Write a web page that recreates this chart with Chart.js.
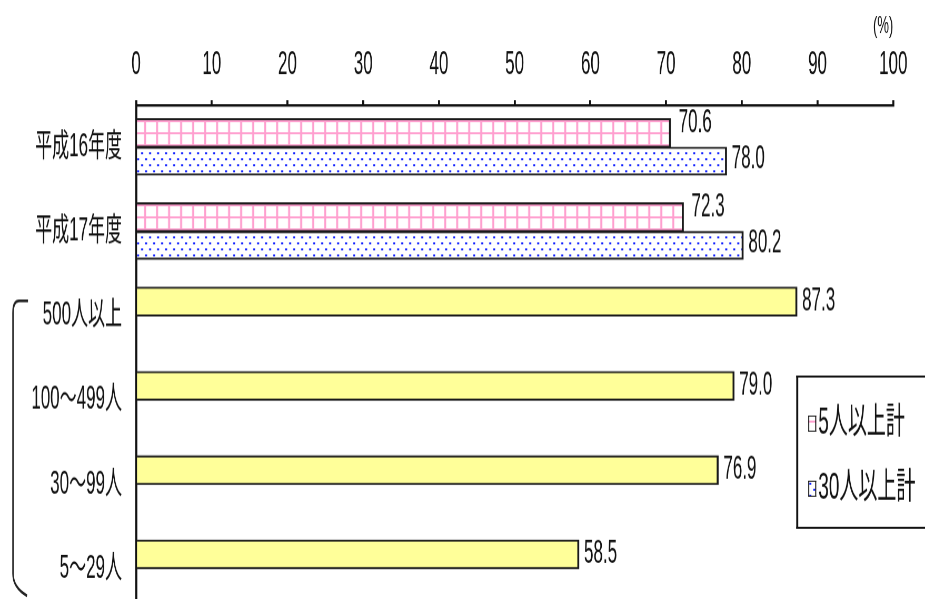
<!DOCTYPE html>
<html lang="ja">
<head>
<meta charset="utf-8">
<title>規模別・年度別の割合</title>
<script src="https://cdn.jsdelivr.net/npm/chart.js@4.4.1/dist/chart.umd.min.js"></script>
<style>
  html, body { margin: 0; padding: 0; background: #fff; }
  #frame { width: 925px; height: 599px; overflow: hidden; position: relative; background: #fff; }
  #stretch { width: 925px; height: 321px; transform: scaleY(1.9); transform-origin: 0 0; }
</style>
</head>
<body>
<div id="frame"><div id="stretch"><canvas id="chart" width="925" height="321"></canvas></div></div>
<script>
// 年度別の計
const yearCategories = ['平成16年度', '平成17年度'];
const totalFivePlus = [70.6, 72.3];
const totalThirtyPlus = [78.0, 80.2];

// 規模別（5人以上計の内訳）
const sizeCategories = ['500人以上', '100～499人', '30～99人', '5～29人'];
const sizeValues = [87.3, 79.0, 76.9, 58.5];

// 系列名・目盛り
const seriesNames = ['5人以上計', '30人以上計'];
const axisMin = 0;
const axisMax = 100;
const axisStep = 10;
const unitLabel = '(%)';

// The canvas is drawn flat and stretched vertically by CSS, giving tall narrow lettering.
const STRETCH = 1.9;
const FONT = '"Liberation Sans", "Noto Sans CJK JP", sans-serif';
const INK = '#111';

const canvas = document.getElementById('chart');
const ctx0 = canvas.getContext('2d');

// Fill patterns, painted in screen pixels (undo the vertical stretch)
function makePattern(w, h, paint) {
  const tile = document.createElement('canvas');
  tile.width = w;
  tile.height = h;
  const g = tile.getContext('2d');
  g.fillStyle = '#fff';
  g.fillRect(0, 0, w, h);
  paint(g);
  const p = ctx0.createPattern(tile, 'repeat');
  p.setTransform(new DOMMatrix([1, 0, 0, 1 / STRETCH, 0, 0]));
  return p;
}
const pinkGrid = makePattern(12, 12, g => {
  g.fillStyle = '#ff9fcf';
  g.fillRect(0, 0, 2, 12);
  g.fillRect(0, 0, 12, 2);
});
const blueDots = makePattern(8, 12, g => {
  g.fillStyle = '#1020ff';
  g.fillRect(1, 2, 2, 2);
  g.fillRect(5, 8, 2, 2);
});
const sizeFill = '#ffff99';

const categories = [...yearCategories, ...sizeCategories];
const firstSeries = [...totalFivePlus, ...sizeValues];
const secondSeries = [...totalThirtyPlus, ...sizeCategories.map(() => null)];
const firstColors = categories.map((_, i) => (i < yearCategories.length ? pinkGrid : sizeFill));

const barBorder = { top: 1.1, right: 2, bottom: 1.1, left: 2 };

// Value labels at the end of each bar
const valueLabels = {
  id: 'valueLabels',
  afterDatasetsDraw(chart) {
    const { ctx } = chart;
    ctx.save();
    ctx.font = '17px ' + FONT;
    ctx.fillStyle = INK;
    ctx.textBaseline = 'middle';
    ctx.textAlign = 'left';
    chart.data.datasets.forEach((ds, di) => {
      const meta = chart.getDatasetMeta(di);
      meta.data.forEach((bar, i) => {
        const v = ds.data[i];
        if (v === null || v === undefined) return;
        const yearRow = i < yearCategories.length;
        let dx = 5, dy = 0;
        if (yearRow && di === 0) { dx = 8; dy = -10 / STRETCH; }
        if (yearRow && di === 1) { dx = 5; dy = -2 / STRETCH; }
        ctx.fillText(v.toFixed(1), bar.x + dx, bar.y + dy);
      });
    });
    ctx.restore();
  }
};

// Bracket grouping the size rows
const sizeBracket = {
  id: 'sizeBracket',
  afterDraw(chart) {
    const { ctx } = chart;
    const y = chart.scales.y;
    const first = yearCategories.length;
    const top = y.getPixelForValue(first) - 15 / STRETCH;
    const bottom = y.getPixelForValue(first + sizeCategories.length - 1) + 27 / STRETCH;
    ctx.save();
    ctx.strokeStyle = '#222';
    ctx.lineWidth = 1.5;
    ctx.beginPath();
    ctx.moveTo(28, top);
    ctx.lineTo(19, top);
    ctx.quadraticCurveTo(13, top, 13, top + 12 / STRETCH);
    ctx.lineTo(13, bottom - 22 / STRETCH);
    ctx.quadraticCurveTo(13, bottom - 8 / STRETCH, 27, bottom);
    ctx.stroke();
    ctx.restore();
  }
};

// Boxed legend inside the plot
const boxLegend = {
  id: 'boxLegend',
  afterDraw(chart) {
    const { ctx } = chart;
    const S = STRETCH;
    const left = 797, right = 960;
    const top = 376 / S, bottom = 527 / S;
    ctx.save();
    ctx.fillStyle = '#fff';
    ctx.fillRect(left, top, right - left, bottom - top);
    ctx.fillStyle = INK;
    ctx.fillRect(left - 1, top - 1 / S, right - left, 2 / S);
    ctx.fillRect(left - 1, bottom - 1 / S, right - left, 2 / S);
    ctx.fillRect(left - 1, top - 1 / S, 2, bottom - top + 2 / S);
    const rows = [423 / S, 488 / S];
    ctx.font = '19px ' + FONT;
    ctx.textBaseline = 'middle';
    ctx.textAlign = 'left';
    chart.data.datasets.forEach((ds, i) => {
      const cy = rows[i];
      const sw = 8, sh = 16 / S;
      ctx.fillStyle = Array.isArray(ds.backgroundColor) ? ds.backgroundColor[0] : ds.backgroundColor;
      ctx.fillRect(808, cy - sh / 2, sw, sh);
      ctx.fillStyle = INK;
      ctx.fillRect(808, cy - sh / 2, sw, 1 / S);
      ctx.fillRect(808, cy + sh / 2 - 1 / S, sw, 1 / S);
      ctx.fillRect(808, cy - sh / 2, 1, sh);
      ctx.fillRect(808 + sw - 1, cy - sh / 2, 1, sh);
      ctx.fillText(ds.label, 818, cy);
    });
    ctx.restore();
  }
};

new Chart(canvas, {
  type: 'bar',
  data: {
    labels: categories,
    datasets: [
      {
        label: seriesNames[0],
        data: firstSeries,
        backgroundColor: firstColors,
        borderColor: '#1a1a1a',
        borderWidth: barBorder,
        borderSkipped: 'start',
        barThickness: 15
      },
      {
        label: seriesNames[1],
        data: secondSeries,
        backgroundColor: blueDots,
        borderColor: '#1a1a1a',
        borderWidth: barBorder,
        borderSkipped: 'start',
        barThickness: 14.5
      }
    ]
  },
  options: {
    indexAxis: 'y',
    responsive: false,
    animation: false,
    devicePixelRatio: STRETCH,
    layout: { padding: { left: 0, right: 32, top: 0, bottom: 0 } },
    plugins: {
      legend: { display: false },
      tooltip: { enabled: false }
    },
    scales: {
      x: {
        position: 'top',
        min: axisMin,
        max: axisMax,
        ticks: {
          stepSize: axisStep,
          padding: 8,
          color: INK,
          maxRotation: 0,
          autoSkip: false,
          font: { family: FONT, size: 17 }
        },
        grid: {
          drawOnChartArea: false,
          drawTicks: true,
          tickLength: 5 / STRETCH,
          lineWidth: 2,
          color: INK
        },
        border: { display: true, color: INK, width: 1.3 },
        title: {
          display: true,
          text: unitLabel,
          align: 'end',
          color: INK,
          padding: { top: 6, bottom: 0 },
          font: { family: FONT, size: 13 }
        },
        afterFit(scale) { scale.height = 105 / STRETCH; }
      },
      y: {
        ticks: {
          padding: 14,
          color: INK,
          autoSkip: false,
          font: { family: FONT, size: 17 }
        },
        grid: { display: false, drawTicks: false },
        border: { display: true, color: INK, width: 2 },
        afterFit(scale) {
          scale.width = 136;
          // the plot runs to the bottom edge; no room kept for label overhang
          scale.paddingTop = 0;
          scale.paddingBottom = 0;
        }
      }
    }
  },
  plugins: [valueLabels, sizeBracket, boxLegend]
});
</script>
</body>
</html>
